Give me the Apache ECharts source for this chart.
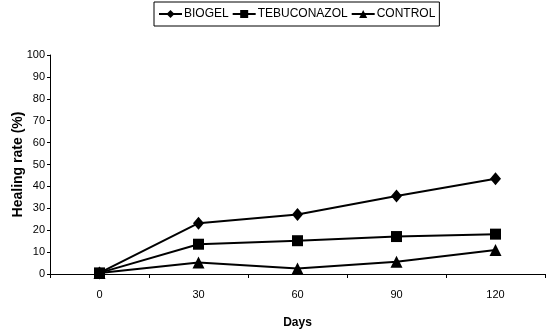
<!DOCTYPE html>
<html><head><meta charset="utf-8">
<script src="https://cdn.jsdelivr.net/npm/echarts@6/dist/echarts.min.js"></script>
<style>html,body{margin:0;padding:0;background:#fff}#c{width:550px;height:334px}</style>
</head><body><div id="c"></div>
<script>
const days = ['0', '30', '60', '90', '120'];
const biogel = [0.5, 23.2, 27.2, 35.6, 43.5];
const tebuconazol = [0.5, 13.6, 15.2, 17.1, 18.2];
const control = [0.5, 5.2, 2.5, 5.6, 11.0];
const yTicks = [0, 10, 20, 30, 40, 50, 60, 70, 80, 90, 100];

const font = 'Liberation Sans, Arial, sans-serif';
const chart = echarts.init(document.getElementById('c'));
function s(name, data, symbol, size) {
  return {
    name, type: 'line', data, symbol, symbolSize: size,
    lineStyle: { color: '#000', width: 2 },
    itemStyle: { color: '#000' },
    animation: false
  };
}
chart.setOption({
  backgroundColor: '#fff',
  textStyle: { fontFamily: font },
  legend: {
    top: 2, left: 154,
    itemGap: 3, itemWidth: 23, itemHeight: 10,
    borderColor: '#000', borderWidth: 1, padding: [6, 4, 6, 4],
    textStyle: { fontFamily: font, fontSize: 12, color: '#000', padding: [0, 0, 0, -3] },
    data: ['BIOGEL', 'TEBUCONAZOL', 'CONTROL']
  },
  grid: { left: 50, right: 5, top: 55, bottom: 60, containLabel: false, outerBoundsMode: 'none' },
  xAxis: {
    type: 'category', data: days, boundaryGap: true,
    name: 'Days', nameLocation: 'middle', nameGap: 43,
    nameTextStyle: { fontFamily: font, fontSize: 12, fontWeight: 'bold', color: '#000' },
    axisLine: { lineStyle: { color: '#000', width: 1 } },
    axisTick: { show: true, length: 4, lineStyle: { color: '#000' } },
    axisLabel: { color: '#000', fontSize: 11, margin: 15, fontFamily: font }
  },
  yAxis: {
    type: 'value', min: 0, max: 100, interval: 10,
    name: 'Healing rate (%)', nameLocation: 'middle', nameGap: 25, nameRotate: 90,
    nameMoveOverlap: false,
    nameTextStyle: { fontFamily: font, fontSize: 14, fontWeight: 'bold', color: '#000' },
    axisLine: { show: true, lineStyle: { color: '#000', width: 1 } },
    axisTick: { show: true, length: 3, lineStyle: { color: '#000' } },
    splitLine: { show: false },
    axisLabel: { color: '#000', fontSize: 11, margin: 5, fontFamily: font,
      formatter: v => yTicks.includes(v) ? String(v) : '' }
  },
  series: [
    s('BIOGEL', biogel, 'diamond', [11, 13]),
    s('TEBUCONAZOL', tebuconazol, 'rect', 11),
    s('CONTROL', control, 'triangle', 12)
  ]
});
</script></body></html>
